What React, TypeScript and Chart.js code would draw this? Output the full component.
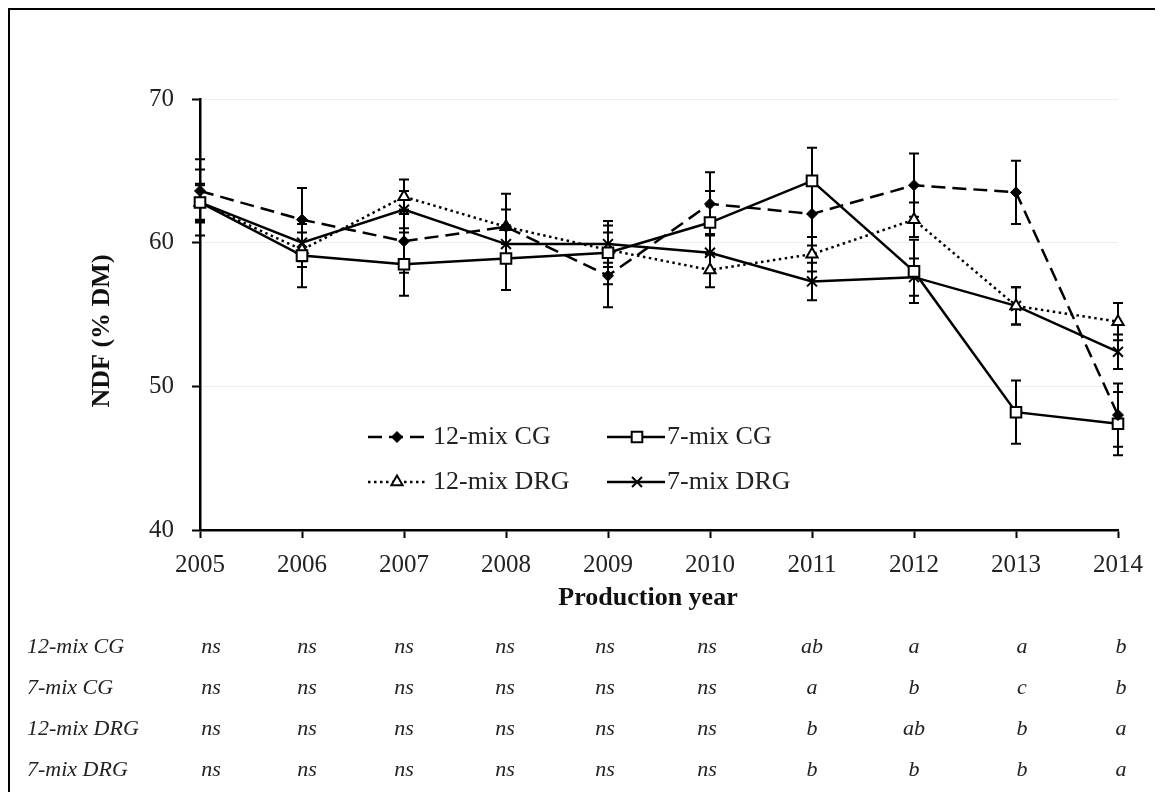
import React, { useEffect, useRef } from 'react';
import { Chart, registerables } from 'chart.js';

Chart.register(...registerables);

const years = ['2005', '2006', '2007', '2008', '2009', '2010', '2011', '2012', '2013', '2014'];
const seriesNames = ['12-mix CG', '7-mix CG', '12-mix DRG', '7-mix DRG'];

const mix12CG = [63.6, 61.6, 60.1, 61.1, 57.7, 62.7, 62.0, 64.0, 63.5, 48.0];
const mix7CG = [62.8, 59.1, 58.5, 58.9, 59.3, 61.4, 64.3, 58.0, 48.2, 47.4];
const mix12DRG = [62.8, 59.5, 63.2, 61.1, 59.5, 58.1, 59.2, 61.6, 55.6, 54.5];
const mix7DRG = [62.8, 60.0, 62.3, 59.9, 59.9, 59.3, 57.3, 57.6, 55.6, 52.4];

const err12CG = [2.2, 2.2, 2.2, 2.3, 2.2, 2.2, 2.2, 2.2, 2.2, 2.2];
const err7CG = [2.3, 2.2, 2.2, 2.2, 2.2, 2.2, 2.3, 2.2, 2.2, 2.2];
const err12DRG = [1.2, 1.2, 1.2, 1.2, 1.2, 1.2, 1.2, 1.2, 1.3, 1.3];
const err7DRG = [1.3, 1.3, 1.3, 1.3, 1.3, 1.3, 1.3, 1.3, 1.3, 1.2];

const yTickValues = [40, 50, 60, 70];
const xTitle = 'Production year';
const yTitle = 'NDF (% DM)';

const sig12CG = ['ns', 'ns', 'ns', 'ns', 'ns', 'ns', 'ab', 'a', 'a', 'b'];
const sig7CG = ['ns', 'ns', 'ns', 'ns', 'ns', 'ns', 'a', 'b', 'c', 'b'];
const sig12DRG = ['ns', 'ns', 'ns', 'ns', 'ns', 'ns', 'b', 'ab', 'b', 'a'];
const sig7DRG = ['ns', 'ns', 'ns', 'ns', 'ns', 'ns', 'b', 'b', 'b', 'a'];

const FONT = "'Liberation Serif', 'Times New Roman', serif";
const CW = 1149;
const CH = 782;

function drawMarker(ctx: CanvasRenderingContext2D, style: string, x: number, y: number, r: number, fill: string, lw: number) {
  ctx.save();
  ctx.setLineDash([]);
  ctx.lineWidth = lw;
  ctx.strokeStyle = '#000';
  ctx.fillStyle = fill;
  ctx.beginPath();
  if (style === 'rectRot') {
    ctx.moveTo(x - r, y);
    ctx.lineTo(x, y - r);
    ctx.lineTo(x + r, y);
    ctx.lineTo(x, y + r);
    ctx.closePath();
    ctx.fill();
    ctx.stroke();
  } else if (style === 'rect') {
    const s = r * Math.SQRT1_2;
    ctx.rect(x - s, y - s, 2 * s, 2 * s);
    ctx.fill();
    ctx.stroke();
  } else if (style === 'triangle') {
    ctx.moveTo(x, y - r);
    ctx.lineTo(x + r * Math.sin(Math.PI / 3), y + r * 0.5);
    ctx.lineTo(x - r * Math.sin(Math.PI / 3), y + r * 0.5);
    ctx.closePath();
    ctx.fill();
    ctx.stroke();
  } else {
    const d = r * Math.SQRT1_2;
    ctx.moveTo(x - d, y - d);
    ctx.lineTo(x + d, y + d);
    ctx.moveTo(x - d, y + d);
    ctx.lineTo(x + d, y - d);
    ctx.stroke();
  }
  ctx.restore();
}

const errorBarPlugin = {
  id: 'errorBars',
  beforeDatasetsDraw(chart: any) {
    const ctx = chart.ctx;
    const xs = chart.scales.x;
    const ys = chart.scales.y;
    ctx.save();
    ctx.strokeStyle = '#000';
    ctx.lineWidth = 2;
    ctx.setLineDash([]);
    chart.data.datasets.forEach((ds: any) => {
      const errs: number[] = ds.errors || [];
      ds.data.forEach((v: number, i: number) => {
        const e = errs[i];
        if (e == null) return;
        const x = xs.getPixelForValue(i);
        const yTop = ys.getPixelForValue(v + e);
        const yBot = ys.getPixelForValue(v - e);
        ctx.beginPath();
        ctx.moveTo(x, yTop);
        ctx.lineTo(x, yBot);
        ctx.moveTo(x - 5, yTop);
        ctx.lineTo(x + 5, yTop);
        ctx.moveTo(x - 5, yBot);
        ctx.lineTo(x + 5, yBot);
        ctx.stroke();
      });
    });
    ctx.restore();
  },
};

const titlesPlugin = {
  id: 'axisTitles',
  afterDraw(chart: any) {
    const ctx = chart.ctx;
    ctx.save();
    ctx.fillStyle = '#111';
    ctx.font = `bold 26px ${FONT}`;
    ctx.textAlign = 'center';
    ctx.textBaseline = 'middle';
    ctx.fillText(xTitle, 638, 588);
    ctx.translate(92, 321);
    ctx.rotate(-Math.PI / 2);
    ctx.fillText(yTitle, 0, 0);
    ctx.restore();
  },
};

const legendPlugin = {
  id: 'customLegend',
  afterDraw(chart: any) {
    const ctx = chart.ctx;
    const cols = [
      { x0: 358, x1: 415, xm: 387, xt: 423 },
      { x0: 597, x1: 655, xm: 627, xt: 657 },
    ];
    const rows = [427, 472];
    chart.data.datasets.forEach((ds: any, i: number) => {
      const c = cols[i % 2];
      const y = rows[Math.floor(i / 2)];
      ctx.save();
      ctx.strokeStyle = '#000';
      ctx.lineWidth = ds.borderWidth;
      ctx.setLineDash(ds.borderDash || []);
      ctx.beginPath();
      ctx.moveTo(c.x0, y);
      ctx.lineTo(c.x1, y);
      ctx.stroke();
      ctx.restore();
      drawMarker(ctx, ds.pointStyle, c.xm, y, ds.legendRadius, ds.pointBackgroundColor, ds.pointBorderWidth);
      ctx.save();
      ctx.fillStyle = '#222';
      ctx.font = `26px ${FONT}`;
      ctx.textAlign = 'left';
      ctx.textBaseline = 'middle';
      ctx.fillText(ds.label, c.xt, y);
      ctx.restore();
    });
  },
};

const tablePlugin = {
  id: 'sigTable',
  afterDraw(chart: any) {
    const ctx = chart.ctx;
    const rowsData = [sig12CG, sig7CG, sig12DRG, sig7DRG];
    const rowY = [643, 684, 725, 766];
    const colX = [201, 297, 394, 495, 595, 697, 802, 904, 1012, 1111];
    ctx.save();
    ctx.fillStyle = '#222';
    ctx.font = `italic 22px ${FONT}`;
    ctx.textBaseline = 'alphabetic';
    rowsData.forEach((row, r) => {
      ctx.textAlign = 'left';
      ctx.fillText(seriesNames[r], 17, rowY[r]);
      ctx.textAlign = 'center';
      row.forEach((s, c) => ctx.fillText(s, colX[c], rowY[r]));
    });
    ctx.restore();
  },
};

export default function App() {
  const ref = useRef<HTMLCanvasElement>(null);
  useEffect(() => {
    if (!ref.current) return;
    const common = { borderColor: '#000', borderWidth: 2.5, pointBorderColor: '#000', tension: 0, fill: false };
    const chart = new Chart(ref.current, {
      type: 'line',
      data: {
        labels: years,
        datasets: [
          { ...common, label: seriesNames[0], data: mix12CG, borderDash: [14, 7], pointStyle: 'rectRot', pointRadius: 5.5, pointBackgroundColor: '#000', pointBorderWidth: 1, errors: err12CG, legendRadius: 5.5 } as any,
          { ...common, label: seriesNames[1], data: mix7CG, borderDash: [], pointStyle: 'rect', pointRadius: 7.5, pointBackgroundColor: '#fff', pointBorderWidth: 2, errors: err7CG, legendRadius: 7.5 } as any,
          { ...common, label: seriesNames[2], data: mix12DRG, borderDash: [2.5, 3.5], pointStyle: 'triangle', pointRadius: 6.5, pointBackgroundColor: '#fff', pointBorderWidth: 2, errors: err12DRG, legendRadius: 6.5 } as any,
          { ...common, label: seriesNames[3], data: mix7DRG, borderDash: [], pointStyle: 'crossRot', pointRadius: 7, pointBackgroundColor: '#000', pointBorderWidth: 2, errors: err7DRG, legendRadius: 7 } as any,
        ],
      },
      options: {
        animation: false,
        responsive: false,
        devicePixelRatio: 1,
        layout: { padding: { top: 89, right: 41, left: 0, bottom: 178 } },
        plugins: { legend: { display: false }, tooltip: { enabled: false } },
        scales: {
          x: {
            type: 'category',
            offset: false,
            grid: { drawOnChartArea: false, tickColor: '#000', tickLength: 8, tickWidth: 2 },
            border: { color: '#000', width: 2.5 },
            ticks: { color: '#222', font: { family: FONT, size: 25 }, padding: 12, maxRotation: 0, autoSkip: false },
            title: { display: false },
            afterFit: (s: any) => { s.height = CH - 178 - 520; },
          },
          y: {
            min: 40,
            max: 70,
            afterBuildTicks: (s: any) => { s.ticks = yTickValues.map((v) => ({ value: v })); },
            grid: { color: '#eeeeee', lineWidth: 1, tickColor: '#000', tickLength: 8, tickWidth: 2 },
            border: { color: '#000', width: 2.5 },
            ticks: { color: '#222', font: { family: FONT, size: 25 }, padding: 18 },
            title: { display: false },
            afterFit: (s: any) => { s.width = 190; },
          },
        },
      },
      plugins: [errorBarPlugin, titlesPlugin, legendPlugin, tablePlugin],
    } as any);
    return () => chart.destroy();
  }, []);
  return (
    <div style={{ width: 1153, height: 810, border: '2px solid #000', boxSizing: 'border-box', position: 'relative', background: '#fff' }}>
      <canvas ref={ref} width={CW} height={CH} style={{ position: 'absolute', left: 0, top: 0, width: CW, height: CH }} />
    </div>
  );
}
